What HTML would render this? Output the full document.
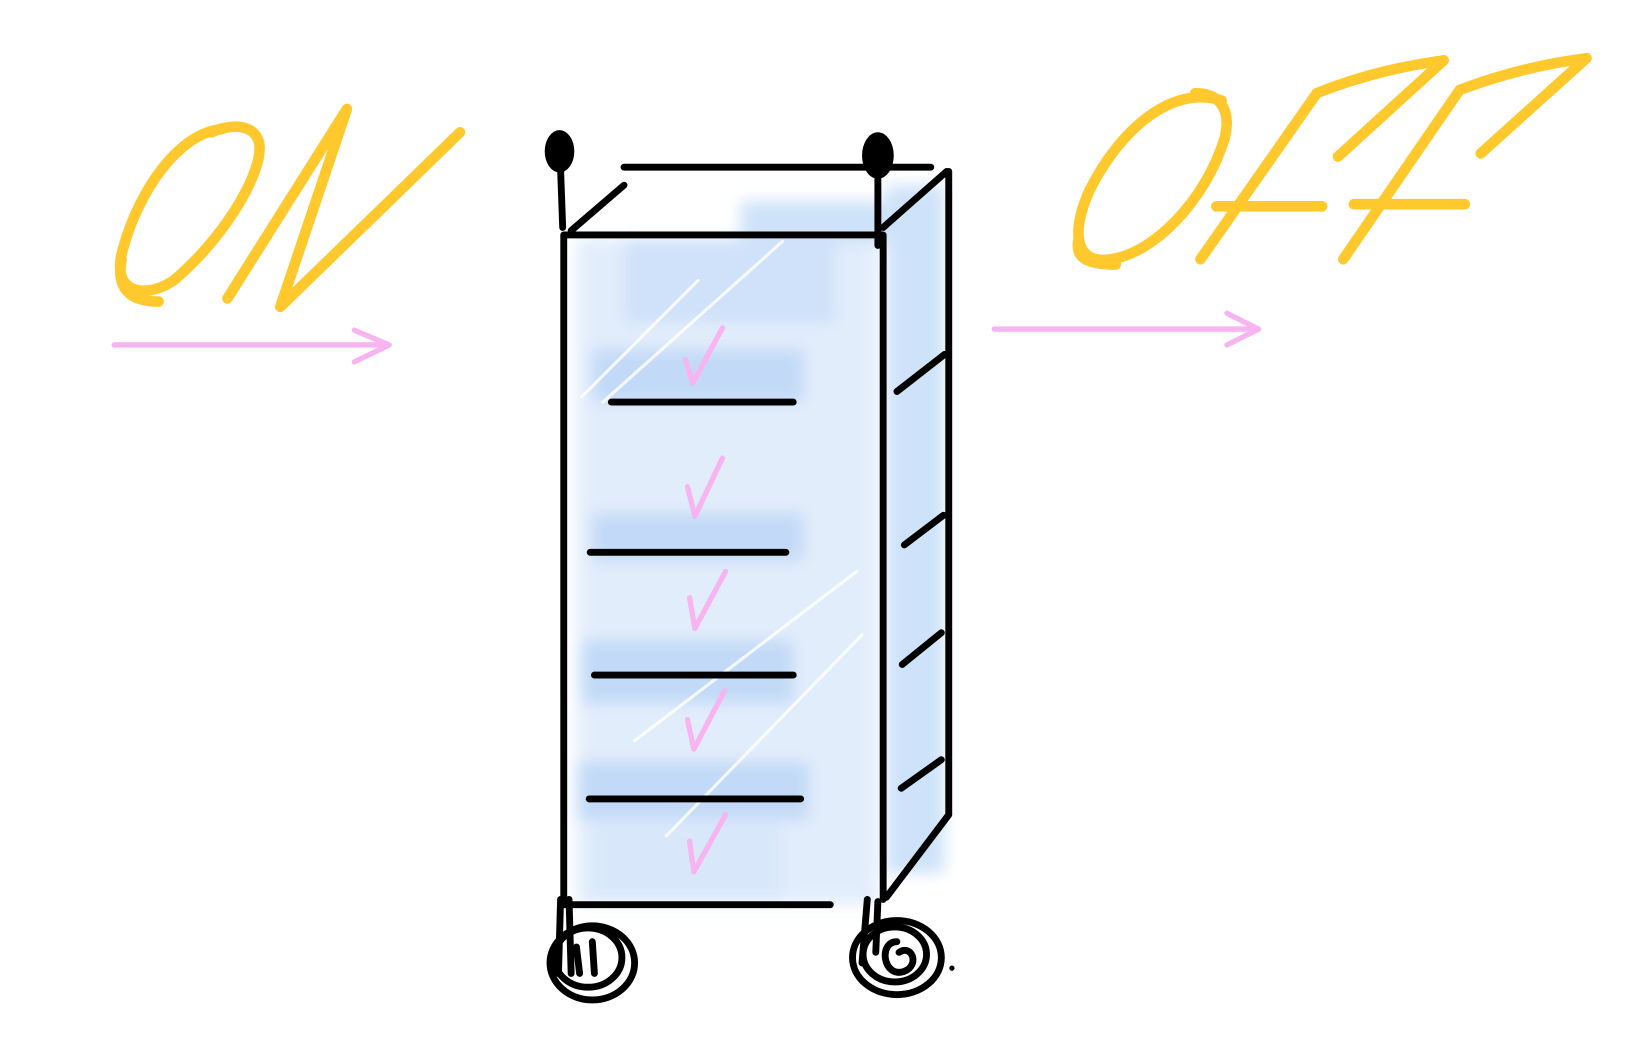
<!DOCTYPE html>
<html><head><meta charset="utf-8"><style>html,body{margin:0;padding:0;background:#fff}svg{display:block}</style></head>
<body>
<svg width="1650" height="1056" viewBox="0 0 1560 998" preserveAspectRatio="none" xmlns="http://www.w3.org/2000/svg">
<defs><filter id="b" x="-20%" y="-20%" width="140%" height="140%"><feGaussianBlur stdDeviation="7"/></filter></defs>
<g filter="url(#b)" fill="#b3d1f6" opacity="0.8">
<rect x="545" y="225" width="285" height="630" fill="#dce9fb"/>
<rect x="838" y="175" width="55" height="650" fill="#c2dbf8"/>
<rect x="590" y="225" width="200" height="80" fill="#c4dbf8"/>
<rect x="560" y="330" width="200" height="50"/>
<rect x="560" y="485" width="200" height="45"/>
<rect x="550" y="605" width="200" height="60"/>
<rect x="545" y="720" width="220" height="55"/>
<rect x="700" y="190" width="190" height="40" fill="#c2dbf8"/>
<rect x="560" y="780" width="180" height="70" fill="#cfe2fa"/>
</g>
<g fill="none" stroke-linecap="round" stroke-linejoin="round">
<g stroke="#ffc92e" stroke-width="10">
<path d="M210,122 C170,125 130,180 115,240 C105,285 150,280 170,260 C215,220 250,160 245,135 C240,115 215,118 200,125"/>
<path d="M115,245 C110,270 120,285 150,285"/>
<path d="M215,282 L328,103 L265,290 L435,125"/>
<path d="M1155,95 C1110,80 1060,120 1030,180 C1010,225 1020,250 1050,245 C1090,240 1140,190 1158,130 C1165,100 1150,88 1130,88"/>
<path d="M1020,225 C1015,245 1030,250 1055,250"/>
<path d="M1135,245 L1245,88 C1290,70 1330,62 1365,57 L1265,148"/>
<path d="M1150,195 L1250,195"/>
<path d="M1270,245 L1380,85 C1420,70 1460,60 1500,55 L1400,145"/>
<path d="M1280,193 L1385,193"/>
</g>
<g stroke="#f7b4f1" stroke-width="5">
<path d="M108,326 L368,326 M335,312 L368,326 L335,342"/>
<path d="M940,311 L1190,311 M1160,296 L1190,311 L1160,326"/>
<path d="M648,340 L655,362 L683,310 M650,460 L657,488 L683,433 M652,565 L657,594 L686,540 M650,680 L656,708 L685,653 M652,795 L656,824 L686,770"/>
</g>
<g stroke="#fff" stroke-width="3" opacity="0.8">
<path d="M550,375 L660,265 M570,380 L740,228 M600,700 L810,540 M630,790 L815,600"/>
</g>
<g stroke="#000" stroke-width="6.5">
<path d="M533,222 L835,222 M533,222 L533,855 M835,222 L835,850 M590,158 L880,158 M540,218 L590,175 M835,215 L895,162 M897,162 L897,770 L838,848 M533,855 L785,855"/>
<path d="M578,380 L750,380 M558,522 L743,522 M562,638 L750,638 M557,755 L757,755"/>
<path d="M848,370 L893,335 M855,515 L892,487 M853,628 L890,598 M852,745 L890,718"/>
<path d="M530,160 L532,215 M830,160 L830,232"/>
<ellipse cx="560" cy="910" rx="40" ry="35"/>
<ellipse cx="556" cy="905" rx="32" ry="28"/>
<path d="M530,850 L528,920 M538,850 L540,920 M560,890 L562,920 M545,895 L548,920"/>
<ellipse cx="848" cy="905" rx="42" ry="35"/>
<ellipse cx="846" cy="902" rx="30" ry="26"/>
<path d="M820,850 L815,910 M830,852 L828,900 M848,890 C830,890 835,925 855,918 C870,912 862,892 850,900"/>
</g>
<g fill="#000">
<ellipse cx="529" cy="143" rx="14" ry="20"/>
<ellipse cx="830" cy="147" rx="15" ry="22"/>
</g>
<circle cx="900" cy="915" r="2.5" fill="#000"/>
</g>
</svg>
</body></html>
